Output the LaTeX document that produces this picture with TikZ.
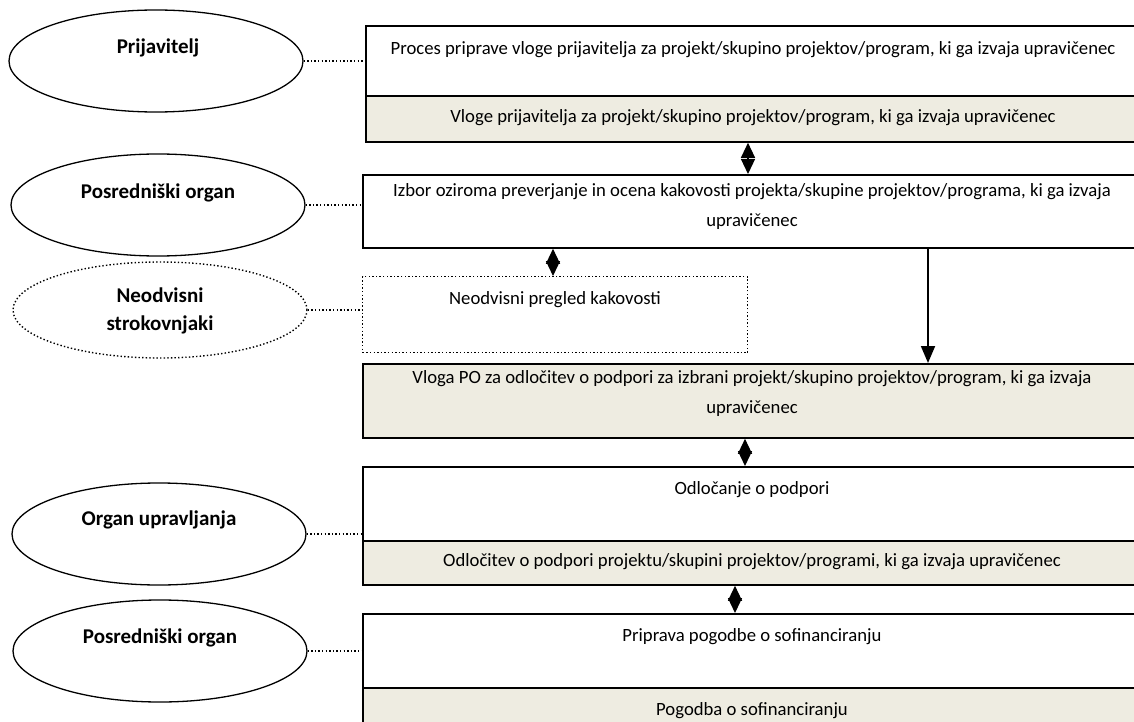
\documentclass[tikz,border=0pt]{standalone}
\usepackage{fontspec}
\setmainfont{Carlito}
\usetikzlibrary{shapes.geometric,arrows.meta,calc}
\definecolor{boxgray}{HTML}{EEECE1}
\begin{document}
\begin{tikzpicture}[x=1pt,y=-1pt,
  ell/.style={ellipse,draw,line width=1.3pt,minimum width=294pt,minimum height=102pt,inner sep=0pt},
  ellt/.style={font=\fontsize{21}{28}\selectfont\bfseries,align=center,inner sep=0pt},
  wbox/.style={rectangle,draw,line width=1.8pt,fill=white,anchor=north west,inner sep=0pt,minimum width=780pt},
  gbox/.style={wbox,fill=boxgray},
  btxt/.style={font=\fontsize{18.7}{30}\selectfont,align=center,inner sep=0pt},
  dots/.style={line width=1.4pt,dash pattern=on 1.4pt off 2.2pt},
  dbl/.style={line width=1.2pt,{Triangle[width=14pt,length=15pt]}-{Triangle[width=14pt,length=15pt]}},
  sarr/.style={line width=1.8pt,-{Triangle[width=14pt,length=17pt]}}
]
\useasboundingbox (0,0) rectangle (1134,722);
\clip (0,0) rectangle (1134,722);
\fill[white] (0,0) rectangle (1134,722);

% boxes
\node[wbox,minimum height=70pt] (b1w) at (365,25) {};
\node[gbox,minimum height=46pt] (b1g) at (365,95) {};
\node[wbox,minimum height=73pt] (b2) at (362,174) {};
\node[wbox,dots,minimum width=385pt,minimum height=76pt] (nb) at (362,276) {};
\node[gbox,minimum height=74pt] (b3) at (362,363) {};
\node[wbox,minimum height=74pt] (b4w) at (362,466) {};
\node[gbox,minimum height=44pt] (b4g) at (362,540) {};
\node[wbox,minimum height=74pt] (b5w) at (362,613) {};
\node[gbox,minimum height=50pt] (b5g) at (362,687) {};

% box texts
\node[btxt] (t1w) at (753,50) {Proces priprave vloge prijavitelja za projekt/skupino projektov/program, ki ga izvaja upravičenec};
\node[btxt] (t1g) at (753,118) {Vloge prijavitelja za projekt/skupino projektov/program, ki ga izvaja upravičenec};
\node[btxt] (t2) at (752,207) {Izbor oziroma preverjanje in ocena kakovosti projekta/skupine projektov/programa, ki ga izvaja\\upravičenec};
\node[btxt] (tn) at (555,300) {Neodvisni pregled kakovosti};
\node[btxt] (t3) at (752,394) {Vloga PO za odločitev o podpori za izbrani projekt/skupino projektov/program, ki ga izvaja\\upravičenec};
\node[btxt] (t4w) at (752,490) {Odločanje o podpori};
\node[btxt] (t4g) at (752,562) {Odločitev o podpori projektu/skupini projektov/programi, ki ga izvaja upravičenec};
\node[btxt] (t5w) at (752,637) {Priprava pogodbe o sofinanciranju};
\node[btxt] (t5g) at (752,711) {Pogodba o sofinanciranju};

% ellipses
\node[ell] (e1) at (156,61) {};
\node[ellt] (l1) at (158,48) {Prijavitelj};
\node[ell] (e2) at (158,205) {};
\node[ellt] (l2) at (158,193) {Posredniški organ};
\node[ell,dots,minimum height=96pt] (e3) at (160,310) {};
\node[ellt] (l3) at (160,311) {Neodvisni\\strokovnjaki};
\node[ell] (e4) at (159,534) {};
\node[ellt] (l4) at (159,520) {Organ upravljanja};
\node[ell] (e5) at (160,651) {};
\node[ellt] (l5) at (160,638) {Posredniški organ};

% dotted connectors
\draw[dots] (e1.east) -- (e1.east -| b1w.west);
\draw[dots] (e2.east) -- (e2.east -| b2.west);
\draw[dots] (e3.east) -- (e3.east -| nb.west);
\draw[dots] (e4.east) -- (e4.east -| b4w.west);
\draw[dots] (e5.east) -- (e5.east -| b5w.west);

% arrows
\coordinate (xa) at (748,0);
\coordinate (xb) at (553,0);
\coordinate (xc) at (928,0);
\coordinate (xd) at (745,0);
\coordinate (xe) at (735,0);
\draw[dbl] (b1g.south -| xa) -- (b2.north -| xa);
\draw[dbl] (b2.south -| xb) -- (nb.north -| xb);
\draw[sarr] (b2.south -| xc) -- (b3.north -| xc);
\draw[dbl] (b3.south -| xd) -- (b4w.north -| xd);
\draw[dbl] (b4g.south -| xe) -- (b5w.north -| xe);
\end{tikzpicture}
\end{document}
